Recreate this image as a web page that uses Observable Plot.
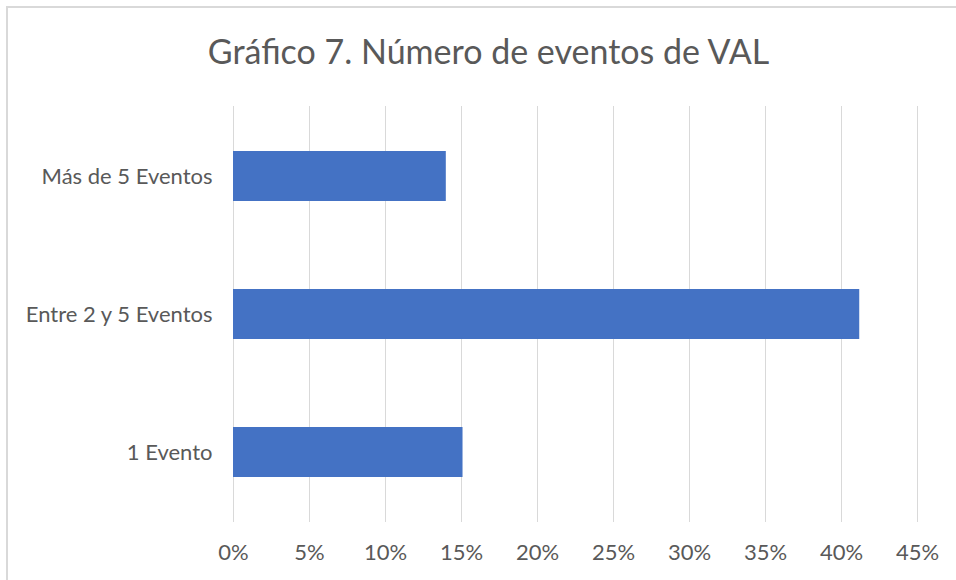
<!DOCTYPE html>
<html><head><meta charset="utf-8">
<script src="https://cdn.jsdelivr.net/npm/d3@7"></script>
<script src="https://cdn.jsdelivr.net/npm/@observablehq/plot@0.6"></script>
<style>
body{margin:0;background:#fff;}
#wrap{position:relative;width:956px;height:580px;overflow:hidden;background:#fff;font-family:Lato,sans-serif;}
#frame{position:absolute;left:6px;top:6px;width:1000px;height:1000px;border-top:2px solid #d9d9d9;border-left:2px solid #d9d9d9;pointer-events:none;}
#title{position:absolute;left:0;top:31px;width:977px;text-align:center;font-size:34px;line-height:40px;color:#595959;white-space:nowrap;}
#chart{position:absolute;left:0;top:0;}
</style>
</head><body>
<div id="wrap"><div id="frame"></div><div id="chart"></div><div id="title">Gráfico 7. Número de eventos de VAL</div></div>
<script>
const categories = ["Más de 5 Eventos", "Entre 2 y 5 Eventos", "1 Evento"];
const values = [0.14, 0.412, 0.151];
const xTicks = [0, 0.05, 0.10, 0.15, 0.20, 0.25, 0.30, 0.35, 0.40, 0.45];

const data = categories.map((c, i) => ({category: c, value: values[i]}));

const chart = Plot.plot({
  width: 956,
  height: 580,
  marginLeft: 233,
  marginRight: 39,
  marginTop: 106,
  marginBottom: 58,
  style: {fontFamily: "Lato, sans-serif", fontSize: "22px", color: "#595959", background: "transparent"},
  x: {domain: [0, 0.45], ticks: xTicks, tickFormat: d3.format(".0%"), tickSize: 0, tickPadding: 22, label: null},
  y: {domain: categories, paddingInner: 0.64, paddingOuter: 0.32, tickSize: 0, tickPadding: 21, label: null},
  marks: [
    Plot.ruleX(xTicks, {stroke: "#d9d9d9", strokeWidth: 1}),
    Plot.barX(data, {x: "value", y: "category", fill: "#4472C4"}),
    Plot.axisX({ticks: xTicks, tickFormat: d3.format(".0%"), tickSize: 0, tickPadding: 22, fill: "#595959", label: null}),
    Plot.axisY({tickSize: 0, tickPadding: 21, fill: "#595959", label: null})
  ]
});
document.getElementById("chart").appendChild(chart);
</script>
</body></html>
